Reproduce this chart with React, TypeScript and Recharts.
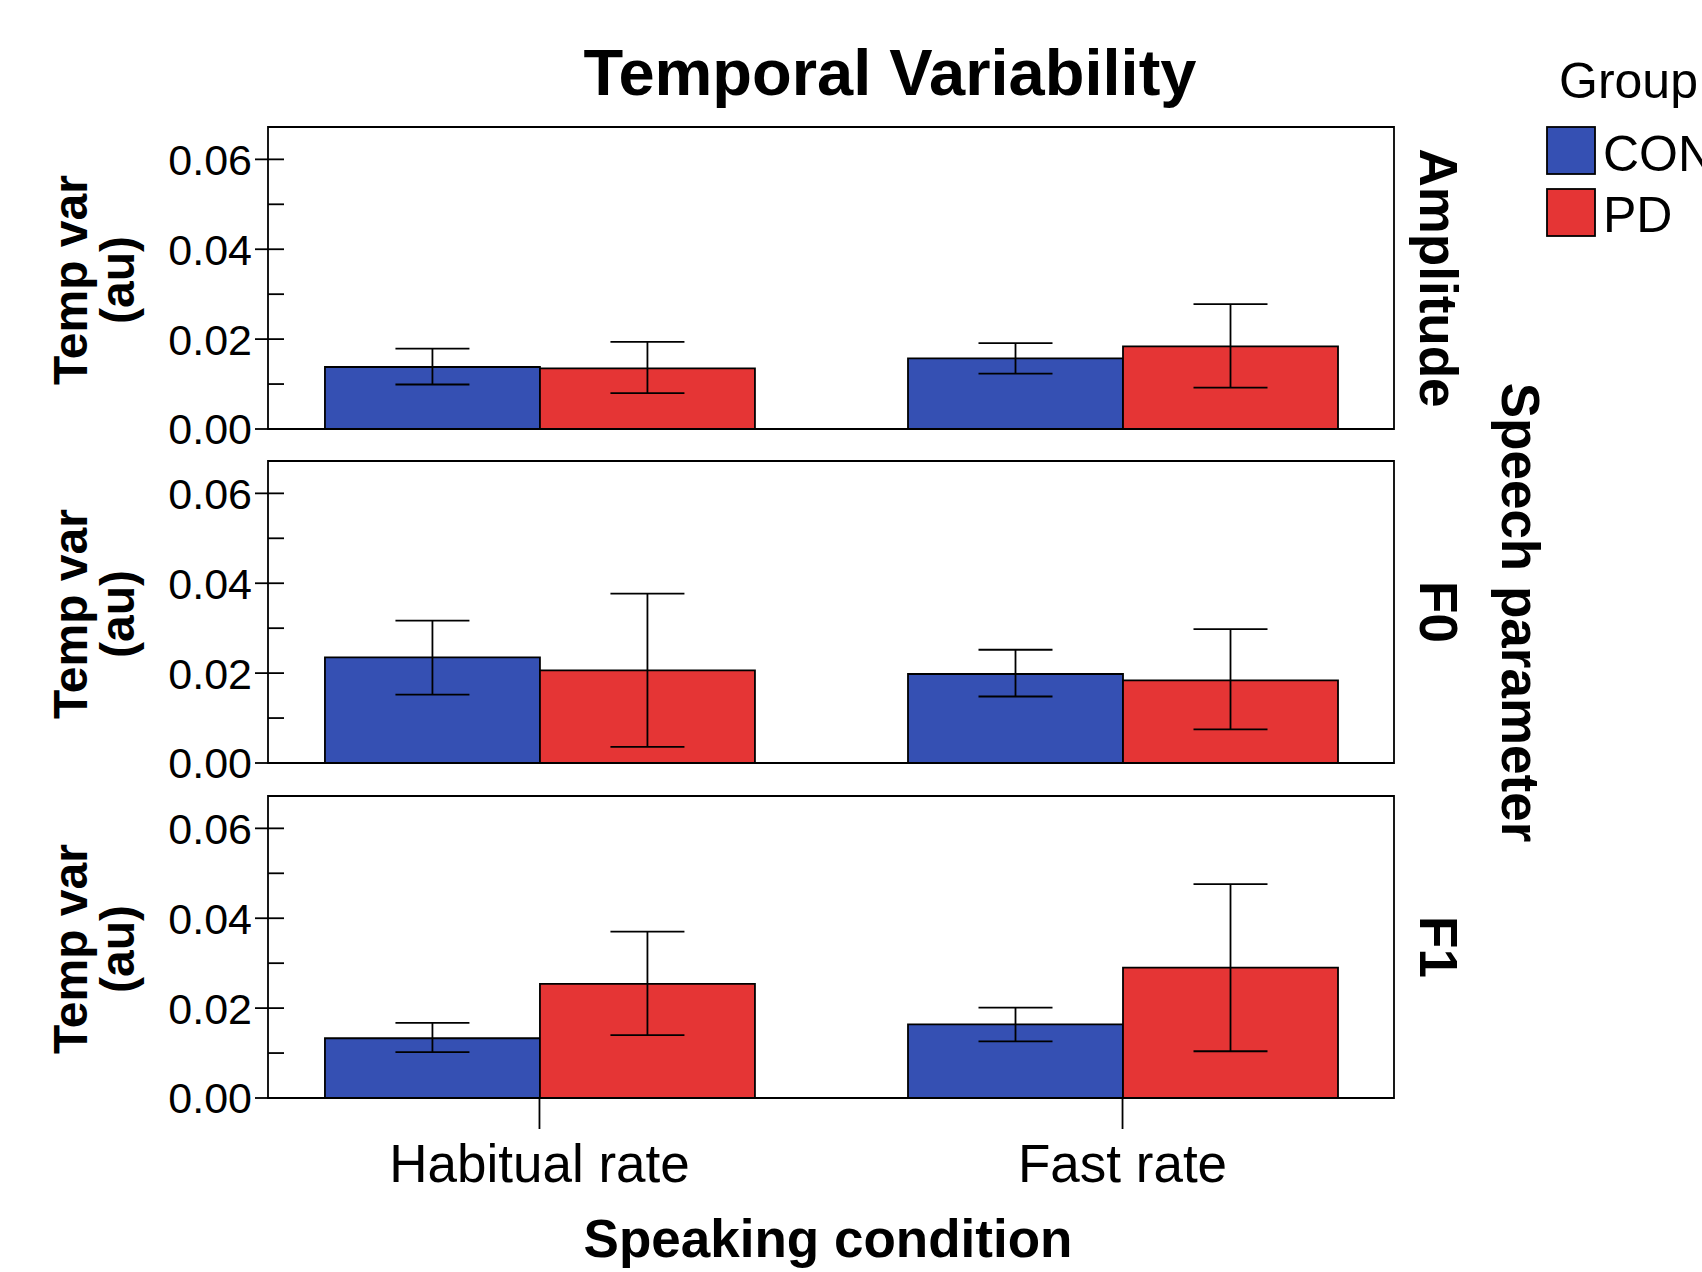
import { BarChart, Bar, XAxis, YAxis, ErrorBar, ReferenceArea } from "recharts";

// Categories and facets
const CONDITIONS = ["Habitual rate", "Fast rate"];
const PARAMETERS = ["Amplitude", "F0", "F1"];
const GROUPS = ["CON", "PD"];

// Means and CI bounds, one row per parameter: [habitual, fast]
const CON_MEAN = [
  [0.0138, 0.0157],
  [0.0235, 0.0198],
  [0.0133, 0.0164],
];
const CON_LOW = [
  [0.0099, 0.0123],
  [0.0152, 0.0148],
  [0.0102, 0.0126],
];
const CON_HIGH = [
  [0.0179, 0.0191],
  [0.0317, 0.0252],
  [0.0167, 0.0201],
];
const PD_MEAN = [
  [0.0135, 0.0184],
  [0.0206, 0.0184],
  [0.0254, 0.029],
];
const PD_LOW = [
  [0.008, 0.0092],
  [0.0036, 0.0075],
  [0.014, 0.0104],
];
const PD_HIGH = [
  [0.0194, 0.0278],
  [0.0377, 0.0298],
  [0.037, 0.0476],
];

const Y_TICKS = [0, 0.01, 0.02, 0.03, 0.04, 0.05, 0.06];
const Y_MAX = 0.0672;
const X_DOMAIN: [number, number] = [-0.4656, 1.4656];

const BLUE = "#3550b3";
const RED = "#e53535";
const FONT = '"Liberation Sans", Arial, Helvetica, sans-serif';

// layout (px)
const W = 1702;
const PANEL_TOP = [127, 461, 796];
const PANEL_H = 302;
const PLOT_LEFT = 268;
const PLOT_RIGHT = 1394;
const PAD = 30;
const LW = 1.8;

function YTick(props: any) {
  const { x, y, payload } = props;
  const major = Math.round(payload.value * 100) % 2 === 0;
  return (
    <g>
      <line x1={major ? x - 13 : x} x2={x + 16} y1={y} y2={y} stroke="#000" strokeWidth={LW} />
      {major && (
        <text x={x - 16} y={y} dy="0.36em" textAnchor="end" fontSize={43} fill="#000">
          {payload.value.toFixed(2)}
        </text>
      )}
    </g>
  );
}

function Panel({ index }: { index: number }) {
  const last = index === PARAMETERS.length - 1;
  const data = CONDITIONS.map((_, i) => ({
    x: i,
    con: CON_MEAN[index][i],
    pd: PD_MEAN[index][i],
    conErr: [CON_MEAN[index][i] - CON_LOW[index][i], CON_HIGH[index][i] - CON_MEAN[index][i]],
    pdErr: [PD_MEAN[index][i] - PD_LOW[index][i], PD_HIGH[index][i] - PD_MEAN[index][i]],
  }));
  const xAxisH = last ? 130 : 0;
  const height = PAD + PANEL_H + (last ? xAxisH : PAD);

  return (
    <div style={{ position: "absolute", left: 0, top: PANEL_TOP[index] - PAD }}>
      <BarChart
        width={W}
        height={height}
        data={data}
        margin={{ top: PAD, right: W - PLOT_RIGHT, bottom: last ? 0 : PAD, left: 0 }}
        barGap={0}
        barSize={215}
      >
        <XAxis
          type="number"
          dataKey="x"
          domain={X_DOMAIN}
          ticks={[0, 1]}
          interval={0}
          hide={!last}
          height={xAxisH}
          axisLine={false}
          tickLine={{ stroke: "#000", strokeWidth: LW }}
          tickSize={31}
          tickMargin={15}
          tick={{ fill: "#000", fontSize: 53 }}
          tickFormatter={(v: number) => CONDITIONS[v]}
        />
        <YAxis
          type="number"
          domain={[0, Y_MAX]}
          ticks={Y_TICKS}
          interval={0}
          width={PLOT_LEFT}
          axisLine={false}
          tickLine={false}
          tickSize={0}
          tickMargin={0}
          tick={<YTick />}
          allowDataOverflow
        />
        <ReferenceArea
          x1={X_DOMAIN[0]}
          x2={X_DOMAIN[1]}
          y1={0}
          y2={Y_MAX}
          fill="none"
          stroke="#000"
          strokeWidth={LW}
        />
        <Bar dataKey="con" name={GROUPS[0]} fill={BLUE} stroke="#000" strokeWidth={LW} isAnimationActive={false}>
          <ErrorBar dataKey="conErr" width={37} stroke="#000" strokeWidth={LW} isAnimationActive={false} />
        </Bar>
        <Bar dataKey="pd" name={GROUPS[1]} fill={RED} stroke="#000" strokeWidth={LW} isAnimationActive={false}>
          <ErrorBar dataKey="pdErr" width={37} stroke="#000" strokeWidth={LW} isAnimationActive={false} />
        </Bar>
      </BarChart>
    </div>
  );
}

export default function App() {
  const panelMid = PANEL_TOP.map((t) => t + PANEL_H / 2);
  const stackMid = (PANEL_TOP[0] + PANEL_TOP[2] + PANEL_H) / 2;
  return (
    <div
      style={{
        position: "absolute",
        left: 0,
        top: 0,
        width: W,
        height: 1272,
        background: "#fff",
        fontFamily: FONT,
        overflow: "hidden",
      }}
    >
      {PARAMETERS.map((_, i) => (
        <Panel key={i} index={i} />
      ))}
      <svg
        width={W}
        height={1272}
        style={{ position: "absolute", left: 0, top: 0, pointerEvents: "none" }}
        fontFamily={FONT}
      >
        <text x={890} y={95} textAnchor="middle" fontSize={65} fontWeight="bold">
          Temporal Variability
        </text>
        <text x={828} y={1257} textAnchor="middle" fontSize={53} fontWeight="bold">
          Speaking condition
        </text>
        <text transform={`translate(1502,${stackMid}) rotate(90)`} textAnchor="middle" fontSize={53} fontWeight="bold">
          Speech parameter
        </text>

        {PARAMETERS.map((p, i) => (
          <g key={p}>
            <text transform={`translate(1420,${panelMid[i]}) rotate(90)`} textAnchor="middle" fontSize={53} fontWeight="bold">
              {p}
            </text>
            <text transform={`translate(87,${panelMid[i] + 2}) rotate(-90)`} textAnchor="middle" fontSize={48} fontWeight="bold">
              Temp var
            </text>
            <text transform={`translate(134,${panelMid[i] + 2}) rotate(-90)`} textAnchor="middle" fontSize={48} fontWeight="bold">
              (au)
            </text>
          </g>
        ))}

        {/* legend */}
        <text x={1559} y={98} fontSize={50}>
          Group
        </text>
        {GROUPS.map((g, i) => (
          <g key={g}>
            <rect x={1547} y={127 + i * 62} width={48} height={47} fill={i === 0 ? BLUE : RED} stroke="#000" strokeWidth={LW} />
            <text x={1603} y={171 + i * 61} fontSize={50}>
              {g}
            </text>
          </g>
        ))}
      </svg>
    </div>
  );
}
